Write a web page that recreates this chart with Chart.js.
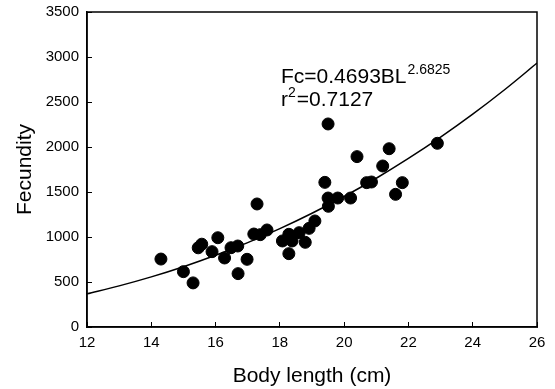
<!DOCTYPE html>
<html>
<head>
<meta charset="utf-8">
<script src="https://cdn.jsdelivr.net/npm/chart.js@4/dist/chart.umd.min.js"></script>
<style>
  html, body { margin: 0; padding: 0; background: #fff; }
  #wrap { width: 555px; height: 389px; }
</style>
</head>
<body>
<div id="wrap"><canvas id="chart" width="555" height="389"></canvas></div>
<script>
const ctx = document.getElementById("chart").getContext("2d");

// observed fish: body length (cm) and fecundity
const bodyLength = [14.3, 15.0, 15.3, 15.46, 15.57, 15.89, 16.07, 16.28, 16.48, 16.69, 16.7, 16.98,
  17.29, 17.19, 17.39, 17.6, 18.08, 18.28, 18.28, 18.38, 18.6, 18.79, 18.91, 19.09,
  19.5, 19.4, 19.5, 19.51, 19.8, 20.2, 20.4, 20.7, 20.85, 21.2, 21.4, 21.6, 21.81, 22.9];
const fecundity = [755, 615, 490, 880, 920, 837, 992, 767, 881, 900, 593, 752,
  1367, 1033, 1026, 1078, 956, 1030, 815, 956, 1048, 941, 1096, 1178,
  2256, 1607, 1433, 1341, 1433, 1433, 1893, 1604, 1611, 1789, 1981, 1474, 1604, 2041];

// fitted curve Fc = 0.4693 BL^2.6825, read at whole centimetres
const curveLength = [12, 13, 14, 15, 16, 17, 18, 19, 20, 21, 22, 23, 24, 25, 26];
const curveFecundity = [368, 457, 557, 670, 797, 938, 1093, 1264, 1450, 1653, 1873, 2110, 2365, 2639, 2932];

const xTicks = [12, 14, 16, 18, 20, 22, 24, 26];
const yTicks = [0, 500, 1000, 1500, 2000, 2500, 3000, 3500];

const FONT = "'Liberation Sans', Arial, sans-serif";

const boxAndLabel = {
  id: "boxAndLabel",
  afterDraw(chart) {
    const c = chart.ctx;
    const a = chart.chartArea;
    c.save();
    c.strokeStyle = "#000";
    c.lineWidth = 1.5;
    c.strokeRect(a.left, a.top, a.right - a.left, a.bottom - a.top);

    c.fillStyle = "#000";
    c.textBaseline = "alphabetic";
    c.textAlign = "left";
    c.font = "21px " + FONT;
    const main = "Fc=0.4693BL";
    c.fillText(main, 281, 83);
    const w = c.measureText(main).width;
    c.font = "14px " + FONT;
    c.fillText("2.6825", 281 + w + 1, 74);

    c.font = "21px " + FONT;
    c.fillText("r", 281, 106);
    const rw = c.measureText("r").width;
    c.font = "14px " + FONT;
    c.fillText("2", 281 + rw, 97);
    const r2w = c.measureText("2").width;
    c.font = "21px " + FONT;
    c.fillText("=0.7127", 281 + rw + r2w + 1, 106);
    c.restore();
  }
};

new Chart(ctx, {
  type: "scatter",
  data: {
    datasets: [
      {
        label: "Fecundity",
        data: bodyLength.map((x, i) => ({ x: x, y: fecundity[i] })),
        backgroundColor: "#000",
        borderColor: "#000",
        pointRadius: 6,
        pointHoverRadius: 6,
      },
      {
        label: "Fit",
        data: curveLength.map((x, i) => ({ x: x, y: curveFecundity[i] })),
        showLine: true,
        borderColor: "#000",
        borderWidth: 1.5,
        pointRadius: 0,
        cubicInterpolationMode: "monotone",
        fill: false,
      },
    ],
  },
  options: {
    responsive: false,
    animation: false,
    events: [],
    layout: { padding: { left: 0, top: 12, right: 18, bottom: 0 } },
    plugins: { legend: { display: false }, tooltip: { enabled: false } },
    scales: {
      x: {
        type: "linear",
        min: 12,
        max: 26,
        afterBuildTicks: (s) => { s.ticks = xTicks.map((v) => ({ value: v })); },
        afterFit: (s) => { s.height = 62; s.paddingLeft = 0; s.paddingRight = 0; },
        grid: { drawOnChartArea: false, drawTicks: true, tickLength: -5, color: "#000" },
        border: { display: true, color: "#000", width: 1.5 },
        ticks: { color: "#000", padding: 12, font: { family: FONT, size: 15 }, maxRotation: 0, callback: (v) => String(v) },
        title: { display: true, text: "Body length (cm)", color: "#000", padding: 0, font: { family: FONT, size: 21 } },
      },
      y: {
        type: "linear",
        min: 0,
        max: 3500,
        afterBuildTicks: (s) => { s.ticks = yTicks.map((v) => ({ value: v })); },
        afterFit: (s) => { s.width = 87; s.paddingTop = 0; s.paddingBottom = 0; },
        grid: { drawOnChartArea: false, drawTicks: true, tickLength: -5, color: "#000" },
        border: { display: true, color: "#000", width: 1.5 },
        ticks: { color: "#000", padding: 13, font: { family: FONT, size: 15 }, callback: (v) => String(v) },
        title: { display: true, text: "Fecundity", color: "#000", padding: { top: 13, bottom: 0 }, font: { family: FONT, size: 21 } },
      },
    },
  },
  plugins: [boxAndLabel],
});
</script>
</body>
</html>
